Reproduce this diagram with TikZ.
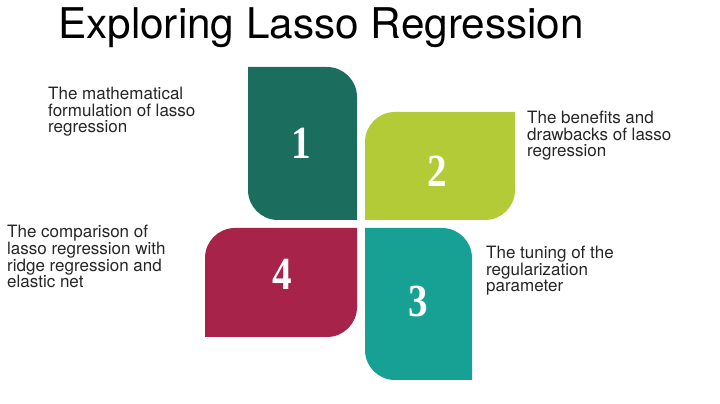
\documentclass[tikz,border=0pt]{standalone}
\usepackage{fontspec}
\setmainfont{TeX Gyre Heros}
\definecolor{petalA}{HTML}{1B6E5E}
\definecolor{petalB}{HTML}{B4CB38}
\definecolor{petalC}{HTML}{16A194}
\definecolor{petalD}{HTML}{A7234A}
\definecolor{bodytext}{HTML}{262626}
\begin{document}
\begin{tikzpicture}[x=1pt,y=1pt,
  numlabel/.style={text=white,font={\fontspec{Liberation Serif}\bfseries\fontsize{46}{46}\selectfont},xscale=0.85,inner sep=0},
  desc/.style={text=bodytext,font={\fontsize{17}{16.7}\selectfont},align=left,anchor=base west,inner sep=0}]
\useasboundingbox (0,0) rectangle (720,404);
\fill[white] (0,0) rectangle (720,404);
% title
\node[anchor=base west,inner sep=0,text=black,font={\fontsize{42.3}{42.3}\selectfont}] (title) at (58,365) {Exploring Lasso Regression};
% petals
\fill[petalA] (248,337) -- (327,337) arc[start angle=90,end angle=0,radius=30] -- (357,184) -- (278,184) arc[start angle=270,end angle=180,radius=30] -- cycle;
\fill[petalB] (365,184) -- (365,262) arc[start angle=180,end angle=90,radius=30] -- (515,292) -- (515,214) arc[start angle=0,end angle=-90,radius=30] -- cycle;
\fill[petalC] (365,176) -- (442,176) arc[start angle=90,end angle=0,radius=30] -- (472,24) -- (395,24) arc[start angle=270,end angle=180,radius=30] -- cycle;
\fill[petalD] (205,67) -- (205,146) arc[start angle=180,end angle=90,radius=30] -- (357,176) -- (357,97) arc[start angle=0,end angle=-90,radius=30] -- cycle;
% numbers
\node[numlabel] (n1) at (301,261) {1};
\node[numlabel] (n2) at (437,233) {2};
\node[numlabel] (n3) at (418,103) {3};
\node[numlabel] (n4) at (282,130) {4};
% descriptions (anchored at the baseline of the last line)
\node[desc] (d1) at (48,271) {The mathematical\\formulation of lasso\\regression};
\node[desc] (d2) at (527,247) {The benefits and\\drawbacks of lasso\\regression};
\node[desc] (d3) at (486,112) {The tuning of the\\regularization\\parameter};
\node[desc] (d4) at (7,116) {The comparison of\\lasso regression with\\ridge regression and\\elastic net};
\end{tikzpicture}
\end{document}
